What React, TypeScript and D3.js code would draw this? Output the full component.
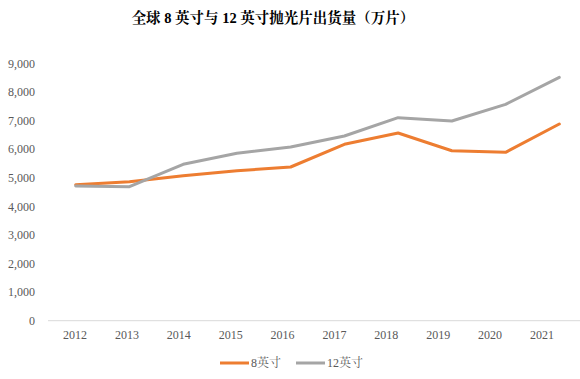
import React from "react";
import * as d3 from "d3";

const years = ["2012","2013","2014","2015","2016","2017","2018","2019","2020","2021"];
const inch8 = [4755, 4860, 5070, 5245, 5374, 6168, 6563, 5944, 5888, 6878];
const inch12 = [4710, 4685, 5468, 5853, 6073, 6458, 7098, 6983, 7566, 8510];
const yTicks = [0,1000,2000,3000,4000,5000,6000,7000,8000,9000];
const seriesNames = ["8英寸", "12英寸"];
const colors = ["#ED7D31", "#A5A5A5"];

const W = 580, H = 379;
const serif = "'Times New Roman', 'Liberation Serif', 'Noto Serif CJK SC', serif";

export default function App() {
  const y = d3.scaleLinear().domain([0, 9000]).range([320.7, 63.3]);
  const xPts = d3.scalePoint<string>().domain(years).range([75.7, 559.3]);
  const xLab = d3.scalePoint<string>().domain(years).range([75, 542]);
  const line = d3.line<number>().x((_, i) => xPts(years[i])!).y(d => y(d));
  const data = [inch8, inch12];
  return (
    <div style={{ position: "absolute", left: 0, top: 0 }}>
      <svg width={W} height={H} style={{ display: "block", background: "#fff" }}>
        <text x={273} y={23} textAnchor="middle" fontSize={14.5} fontWeight="bold" fontFamily={serif} fill="#000">全球 8 英寸与 12 英寸抛光片出货量（万片）</text>
        {yTicks.map(t => (
          <text key={t} x={35} y={y(t)} dy="0.35em" textAnchor="end" fontSize={12} fontFamily={serif} fill="#595959">{d3.format(",")(t)}</text>
        ))}
        <line x1={48} x2={580} y1={y(0)} y2={y(0)} stroke="#D9D9D9" strokeWidth={1} />
        {years.map(yr => (
          <text key={yr} x={xLab(yr)} y={335} dy="0.35em" textAnchor="middle" fontSize={12} fontFamily={serif} fill="#595959">{yr}</text>
        ))}
        {data.map((d, i) => (
          <path key={i} d={line(d)!} fill="none" stroke={colors[i]} strokeWidth={3} strokeLinejoin="round" strokeLinecap="round" />
        ))}
        {[0, 1].map(i => {
          const lx = i === 0 ? 220 : 296;
          return (
            <g key={i}>
              <line x1={lx} x2={lx + 29} y1={363} y2={363} stroke={colors[i]} strokeWidth={3} />
              <text x={lx + 31} y={363} dy="0.35em" fontSize={12} fontFamily={serif} fill="#595959">{seriesNames[i]}</text>
            </g>
          );
        })}
      </svg>
    </div>
  );
}
